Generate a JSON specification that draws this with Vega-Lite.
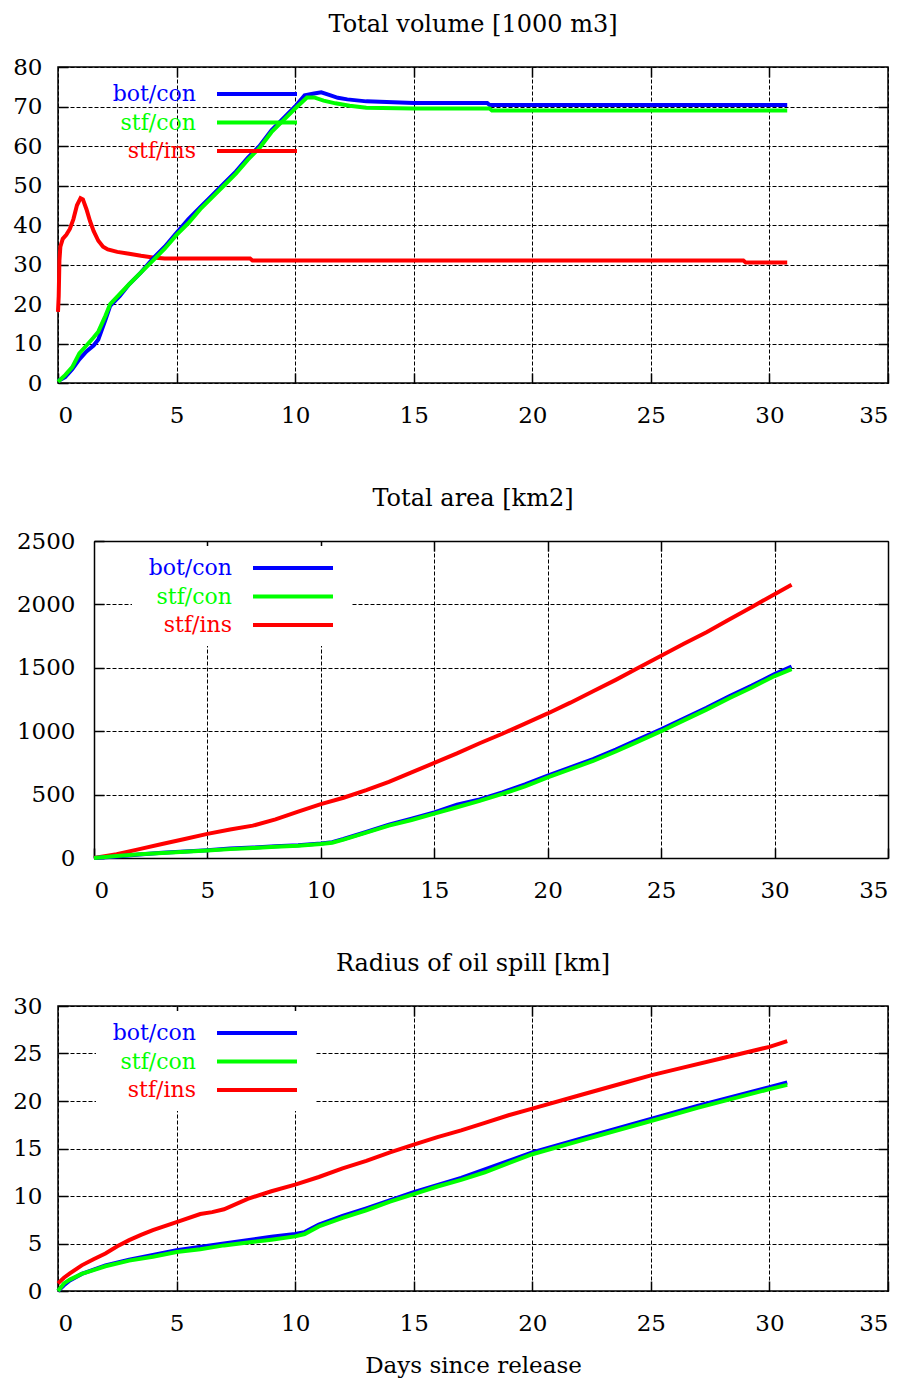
{
  "$schema": "https://vega.github.io/schema/vega-lite/v6.json",
  "padding": {"left": 11, "top": 12, "right": 5, "bottom": 5},
  "background": "white",
  "config": {
    "font": "DejaVu Serif",
    "view": {"stroke": "black", "strokeWidth": 1.5},
    "axis": {
      "labelFont": "DejaVu Serif", "labelFontSize": 23, "labelColor": "black",
      "gridColor": "black", "gridDash": [4, 2], "gridWidth": 1, "gridOpacity": 1,
      "domain": false, "domainColor": "black", "domainWidth": 1.5,
      "tickColor": "black", "tickSize": -10, "tickWidth": 1.5,
      "titleFont": "DejaVu Serif", "titleFontSize": 23, "titleFontWeight": "normal", "titleColor": "black"
    },
    "title": {"font": "DejaVu Serif", "fontSize": 24, "fontWeight": "normal", "color": "black", "offset": 19, "baseline": "alphabetic", "anchor": "middle"},
    "legend": {
      "orient": "none", "legendX": 38, "legendY": 5, "title": null,
      "symbolType": "M-4,0H4", "symbolSize": 400, "symbolStrokeWidth": 4,
      "rowPadding": 5.5, "symbolOffset": 139,
      "labelAlign": "right", "labelOffset": -73, "labelFont": "DejaVu Serif", "labelFontSize": 22,
      "fillColor": "white", "padding": 10, "strokeColor": null
    }
  },
  "datasets": {
    "volume": [
      {"day": 0, "value": 18, "run": "stf/ins"}, {"day": 0.03, "value": 22, "run": "stf/ins"}, {"day": 0.06, "value": 31, "run": "stf/ins"},
      {"day": 0.1, "value": 34.5, "run": "stf/ins"}, {"day": 0.2, "value": 36.5, "run": "stf/ins"}, {"day": 0.35, "value": 37.5, "run": "stf/ins"},
      {"day": 0.5, "value": 39, "run": "stf/ins"}, {"day": 0.65, "value": 41.5, "run": "stf/ins"}, {"day": 0.8, "value": 45, "run": "stf/ins"},
      {"day": 0.95, "value": 46.8, "run": "stf/ins"}, {"day": 1.05, "value": 46.5, "run": "stf/ins"}, {"day": 1.2, "value": 44, "run": "stf/ins"},
      {"day": 1.35, "value": 41, "run": "stf/ins"}, {"day": 1.5, "value": 38.5, "run": "stf/ins"}, {"day": 1.7, "value": 36, "run": "stf/ins"},
      {"day": 1.9, "value": 34.5, "run": "stf/ins"}, {"day": 2.1, "value": 33.8, "run": "stf/ins"}, {"day": 2.5, "value": 33.2, "run": "stf/ins"},
      {"day": 3.0, "value": 32.7, "run": "stf/ins"}, {"day": 3.5, "value": 32.2, "run": "stf/ins"}, {"day": 4.0, "value": 31.8, "run": "stf/ins"},
      {"day": 4.5, "value": 31.5, "run": "stf/ins"}, {"day": 8.1, "value": 31.5, "run": "stf/ins"}, {"day": 8.2, "value": 31, "run": "stf/ins"},
      {"day": 18, "value": 31, "run": "stf/ins"}, {"day": 28.9, "value": 31, "run": "stf/ins"}, {"day": 29, "value": 30.5, "run": "stf/ins"},
      {"day": 30.75, "value": 30.5, "run": "stf/ins"},
      {"day": 0, "value": 0.5, "run": "bot/con"}, {"day": 0.3, "value": 1.5, "run": "bot/con"}, {"day": 0.6, "value": 3.5, "run": "bot/con"},
      {"day": 0.9, "value": 6, "run": "bot/con"}, {"day": 1.2, "value": 8, "run": "bot/con"}, {"day": 1.5, "value": 9.5, "run": "bot/con"},
      {"day": 1.7, "value": 11, "run": "bot/con"}, {"day": 2.0, "value": 16, "run": "bot/con"}, {"day": 2.2, "value": 19.5, "run": "bot/con"},
      {"day": 2.6, "value": 22, "run": "bot/con"}, {"day": 3.0, "value": 25, "run": "bot/con"}, {"day": 3.5, "value": 28, "run": "bot/con"},
      {"day": 4.0, "value": 31.5, "run": "bot/con"}, {"day": 4.5, "value": 34.5, "run": "bot/con"}, {"day": 5.0, "value": 38, "run": "bot/con"},
      {"day": 5.5, "value": 41.5, "run": "bot/con"}, {"day": 6.0, "value": 44.5, "run": "bot/con"}, {"day": 6.5, "value": 47.5, "run": "bot/con"},
      {"day": 7.0, "value": 50.5, "run": "bot/con"}, {"day": 7.5, "value": 53.5, "run": "bot/con"}, {"day": 8.0, "value": 57, "run": "bot/con"},
      {"day": 8.5, "value": 60, "run": "bot/con"}, {"day": 9.0, "value": 64, "run": "bot/con"}, {"day": 9.5, "value": 67, "run": "bot/con"},
      {"day": 10.0, "value": 70, "run": "bot/con"}, {"day": 10.4, "value": 72.8, "run": "bot/con"}, {"day": 10.8, "value": 73.3, "run": "bot/con"},
      {"day": 11.1, "value": 73.6, "run": "bot/con"}, {"day": 11.4, "value": 73, "run": "bot/con"}, {"day": 11.8, "value": 72.2, "run": "bot/con"},
      {"day": 12.2, "value": 71.8, "run": "bot/con"}, {"day": 13, "value": 71.3, "run": "bot/con"}, {"day": 15, "value": 70.9, "run": "bot/con"},
      {"day": 18.1, "value": 70.9, "run": "bot/con"}, {"day": 18.2, "value": 70.4, "run": "bot/con"}, {"day": 30.75, "value": 70.4, "run": "bot/con"},
      {"day": 0, "value": 0.3, "run": "stf/con"}, {"day": 0.3, "value": 2, "run": "stf/con"}, {"day": 0.6, "value": 4, "run": "stf/con"},
      {"day": 0.9, "value": 7.5, "run": "stf/con"}, {"day": 1.2, "value": 9.5, "run": "stf/con"}, {"day": 1.5, "value": 11.5, "run": "stf/con"},
      {"day": 1.7, "value": 13, "run": "stf/con"}, {"day": 2.0, "value": 17, "run": "stf/con"}, {"day": 2.2, "value": 20, "run": "stf/con"},
      {"day": 2.6, "value": 22.5, "run": "stf/con"}, {"day": 3.0, "value": 25, "run": "stf/con"}, {"day": 3.5, "value": 28, "run": "stf/con"},
      {"day": 4.0, "value": 31, "run": "stf/con"}, {"day": 4.5, "value": 34, "run": "stf/con"}, {"day": 5.0, "value": 37.5, "run": "stf/con"},
      {"day": 5.5, "value": 40.5, "run": "stf/con"}, {"day": 6.0, "value": 44, "run": "stf/con"}, {"day": 6.5, "value": 47, "run": "stf/con"},
      {"day": 7.0, "value": 50, "run": "stf/con"}, {"day": 7.5, "value": 53, "run": "stf/con"}, {"day": 8.0, "value": 56.5, "run": "stf/con"},
      {"day": 8.5, "value": 59.5, "run": "stf/con"}, {"day": 9.0, "value": 63.5, "run": "stf/con"}, {"day": 9.5, "value": 66.5, "run": "stf/con"},
      {"day": 10.0, "value": 69.5, "run": "stf/con"}, {"day": 10.5, "value": 72.3, "run": "stf/con"}, {"day": 10.8, "value": 72.3, "run": "stf/con"},
      {"day": 11.2, "value": 71.5, "run": "stf/con"}, {"day": 11.7, "value": 70.8, "run": "stf/con"}, {"day": 12.3, "value": 70.2, "run": "stf/con"},
      {"day": 13, "value": 69.7, "run": "stf/con"}, {"day": 15, "value": 69.5, "run": "stf/con"}, {"day": 18.2, "value": 69.5, "run": "stf/con"},
      {"day": 18.3, "value": 69.0, "run": "stf/con"}, {"day": 30.75, "value": 69.0, "run": "stf/con"}
    ],
    "area": [
      {"day": 0, "value": 0, "run": "stf/ins"}, {"day": 1, "value": 30, "run": "stf/ins"}, {"day": 2, "value": 70, "run": "stf/ins"},
      {"day": 3, "value": 110, "run": "stf/ins"}, {"day": 4, "value": 150, "run": "stf/ins"}, {"day": 5, "value": 190, "run": "stf/ins"},
      {"day": 6, "value": 225, "run": "stf/ins"}, {"day": 7, "value": 255, "run": "stf/ins"}, {"day": 8, "value": 305, "run": "stf/ins"},
      {"day": 9, "value": 365, "run": "stf/ins"}, {"day": 10, "value": 425, "run": "stf/ins"}, {"day": 11, "value": 475, "run": "stf/ins"},
      {"day": 12, "value": 535, "run": "stf/ins"}, {"day": 13, "value": 600, "run": "stf/ins"}, {"day": 14, "value": 675, "run": "stf/ins"},
      {"day": 15, "value": 750, "run": "stf/ins"}, {"day": 16, "value": 825, "run": "stf/ins"}, {"day": 17, "value": 905, "run": "stf/ins"},
      {"day": 18, "value": 980, "run": "stf/ins"}, {"day": 19, "value": 1060, "run": "stf/ins"}, {"day": 20, "value": 1140, "run": "stf/ins"},
      {"day": 21, "value": 1225, "run": "stf/ins"}, {"day": 22, "value": 1315, "run": "stf/ins"}, {"day": 23, "value": 1405, "run": "stf/ins"},
      {"day": 24, "value": 1500, "run": "stf/ins"}, {"day": 25, "value": 1595, "run": "stf/ins"}, {"day": 26, "value": 1690, "run": "stf/ins"},
      {"day": 27, "value": 1780, "run": "stf/ins"}, {"day": 28, "value": 1880, "run": "stf/ins"}, {"day": 29, "value": 1980, "run": "stf/ins"},
      {"day": 30, "value": 2080, "run": "stf/ins"}, {"day": 30.75, "value": 2155, "run": "stf/ins"},
      {"day": 0, "value": 0, "run": "bot/con"}, {"day": 1, "value": 12, "run": "bot/con"}, {"day": 2, "value": 28, "run": "bot/con"},
      {"day": 3, "value": 42, "run": "bot/con"}, {"day": 4, "value": 52, "run": "bot/con"}, {"day": 5, "value": 62, "run": "bot/con"},
      {"day": 6, "value": 75, "run": "bot/con"}, {"day": 7, "value": 82, "run": "bot/con"}, {"day": 8, "value": 92, "run": "bot/con"},
      {"day": 9, "value": 100, "run": "bot/con"}, {"day": 10, "value": 115, "run": "bot/con"}, {"day": 10.5, "value": 125, "run": "bot/con"},
      {"day": 11, "value": 150, "run": "bot/con"}, {"day": 12, "value": 205, "run": "bot/con"}, {"day": 13, "value": 262, "run": "bot/con"},
      {"day": 14, "value": 310, "run": "bot/con"}, {"day": 15, "value": 360, "run": "bot/con"}, {"day": 16, "value": 420, "run": "bot/con"},
      {"day": 17, "value": 462, "run": "bot/con"}, {"day": 18, "value": 518, "run": "bot/con"}, {"day": 19, "value": 580, "run": "bot/con"},
      {"day": 20, "value": 650, "run": "bot/con"}, {"day": 21, "value": 715, "run": "bot/con"}, {"day": 22, "value": 780, "run": "bot/con"},
      {"day": 23, "value": 855, "run": "bot/con"}, {"day": 24, "value": 935, "run": "bot/con"}, {"day": 25, "value": 1015, "run": "bot/con"},
      {"day": 26, "value": 1100, "run": "bot/con"}, {"day": 27, "value": 1185, "run": "bot/con"}, {"day": 28, "value": 1275, "run": "bot/con"},
      {"day": 29, "value": 1360, "run": "bot/con"}, {"day": 30, "value": 1450, "run": "bot/con"}, {"day": 30.75, "value": 1510, "run": "bot/con"},
      {"day": 0, "value": 0, "run": "stf/con"}, {"day": 1, "value": 15, "run": "stf/con"}, {"day": 2, "value": 30, "run": "stf/con"},
      {"day": 3, "value": 40, "run": "stf/con"}, {"day": 4, "value": 50, "run": "stf/con"}, {"day": 5, "value": 60, "run": "stf/con"},
      {"day": 6, "value": 70, "run": "stf/con"}, {"day": 7, "value": 78, "run": "stf/con"}, {"day": 8, "value": 88, "run": "stf/con"},
      {"day": 9, "value": 97, "run": "stf/con"}, {"day": 10, "value": 110, "run": "stf/con"}, {"day": 10.5, "value": 120, "run": "stf/con"},
      {"day": 11, "value": 145, "run": "stf/con"}, {"day": 12, "value": 200, "run": "stf/con"}, {"day": 13, "value": 255, "run": "stf/con"},
      {"day": 14, "value": 300, "run": "stf/con"}, {"day": 15, "value": 350, "run": "stf/con"}, {"day": 16, "value": 400, "run": "stf/con"},
      {"day": 17, "value": 450, "run": "stf/con"}, {"day": 18, "value": 505, "run": "stf/con"}, {"day": 19, "value": 565, "run": "stf/con"},
      {"day": 20, "value": 635, "run": "stf/con"}, {"day": 21, "value": 700, "run": "stf/con"}, {"day": 22, "value": 765, "run": "stf/con"},
      {"day": 23, "value": 840, "run": "stf/con"}, {"day": 24, "value": 920, "run": "stf/con"}, {"day": 25, "value": 1000, "run": "stf/con"},
      {"day": 26, "value": 1085, "run": "stf/con"}, {"day": 27, "value": 1170, "run": "stf/con"}, {"day": 28, "value": 1260, "run": "stf/con"},
      {"day": 29, "value": 1345, "run": "stf/con"}, {"day": 30, "value": 1435, "run": "stf/con"}, {"day": 30.75, "value": 1490, "run": "stf/con"}
    ],
    "radius": [
      {"day": 0, "value": 0.8, "run": "stf/ins"}, {"day": 0.25, "value": 1.4, "run": "stf/ins"}, {"day": 0.5, "value": 1.85, "run": "stf/ins"},
      {"day": 1, "value": 2.7, "run": "stf/ins"}, {"day": 1.5, "value": 3.35, "run": "stf/ins"}, {"day": 2, "value": 3.95, "run": "stf/ins"},
      {"day": 2.5, "value": 4.7, "run": "stf/ins"}, {"day": 3, "value": 5.35, "run": "stf/ins"}, {"day": 3.5, "value": 5.9, "run": "stf/ins"},
      {"day": 4, "value": 6.4, "run": "stf/ins"}, {"day": 5, "value": 7.25, "run": "stf/ins"}, {"day": 6, "value": 8.1, "run": "stf/ins"},
      {"day": 6.5, "value": 8.3, "run": "stf/ins"}, {"day": 7, "value": 8.6, "run": "stf/ins"}, {"day": 8, "value": 9.7, "run": "stf/ins"},
      {"day": 9, "value": 10.5, "run": "stf/ins"}, {"day": 10, "value": 11.2, "run": "stf/ins"}, {"day": 11, "value": 12.0, "run": "stf/ins"},
      {"day": 12, "value": 12.9, "run": "stf/ins"}, {"day": 13, "value": 13.7, "run": "stf/ins"}, {"day": 14, "value": 14.6, "run": "stf/ins"},
      {"day": 15, "value": 15.4, "run": "stf/ins"}, {"day": 16, "value": 16.2, "run": "stf/ins"}, {"day": 17, "value": 16.9, "run": "stf/ins"},
      {"day": 18, "value": 17.7, "run": "stf/ins"}, {"day": 19, "value": 18.5, "run": "stf/ins"}, {"day": 20, "value": 19.2, "run": "stf/ins"},
      {"day": 22, "value": 20.6, "run": "stf/ins"}, {"day": 24, "value": 22.0, "run": "stf/ins"}, {"day": 25, "value": 22.7, "run": "stf/ins"},
      {"day": 26, "value": 23.3, "run": "stf/ins"}, {"day": 28, "value": 24.5, "run": "stf/ins"}, {"day": 30, "value": 25.7, "run": "stf/ins"},
      {"day": 30.75, "value": 26.3, "run": "stf/ins"},
      {"day": 0, "value": 0, "run": "bot/con"}, {"day": 0.25, "value": 0.6, "run": "bot/con"}, {"day": 0.5, "value": 1.1, "run": "bot/con"},
      {"day": 1, "value": 1.8, "run": "bot/con"}, {"day": 2, "value": 2.7, "run": "bot/con"}, {"day": 3, "value": 3.3, "run": "bot/con"},
      {"day": 5, "value": 4.3, "run": "bot/con"}, {"day": 7, "value": 5.0, "run": "bot/con"}, {"day": 9, "value": 5.7, "run": "bot/con"},
      {"day": 10, "value": 6.0, "run": "bot/con"}, {"day": 10.4, "value": 6.2, "run": "bot/con"}, {"day": 11, "value": 7.0, "run": "bot/con"},
      {"day": 12, "value": 7.9, "run": "bot/con"}, {"day": 13, "value": 8.7, "run": "bot/con"}, {"day": 15, "value": 10.4, "run": "bot/con"},
      {"day": 17, "value": 11.9, "run": "bot/con"}, {"day": 20, "value": 14.6, "run": "bot/con"}, {"day": 22, "value": 16.0, "run": "bot/con"},
      {"day": 25, "value": 18.1, "run": "bot/con"}, {"day": 27, "value": 19.5, "run": "bot/con"}, {"day": 30, "value": 21.45, "run": "bot/con"},
      {"day": 30.75, "value": 21.95, "run": "bot/con"},
      {"day": 0, "value": 0, "run": "stf/con"}, {"day": 0.25, "value": 0.8, "run": "stf/con"}, {"day": 0.5, "value": 1.2, "run": "stf/con"},
      {"day": 1, "value": 1.8, "run": "stf/con"}, {"day": 1.5, "value": 2.2, "run": "stf/con"}, {"day": 2, "value": 2.6, "run": "stf/con"},
      {"day": 3, "value": 3.2, "run": "stf/con"}, {"day": 4, "value": 3.6, "run": "stf/con"}, {"day": 5, "value": 4.1, "run": "stf/con"},
      {"day": 6, "value": 4.4, "run": "stf/con"}, {"day": 7, "value": 4.8, "run": "stf/con"}, {"day": 8, "value": 5.1, "run": "stf/con"},
      {"day": 9, "value": 5.4, "run": "stf/con"}, {"day": 10, "value": 5.75, "run": "stf/con"}, {"day": 10.4, "value": 6.0, "run": "stf/con"},
      {"day": 11, "value": 6.8, "run": "stf/con"}, {"day": 12, "value": 7.7, "run": "stf/con"}, {"day": 13, "value": 8.5, "run": "stf/con"},
      {"day": 14, "value": 9.4, "run": "stf/con"}, {"day": 15, "value": 10.2, "run": "stf/con"}, {"day": 16, "value": 11.0, "run": "stf/con"},
      {"day": 17, "value": 11.7, "run": "stf/con"}, {"day": 18, "value": 12.5, "run": "stf/con"}, {"day": 20, "value": 14.4, "run": "stf/con"},
      {"day": 22, "value": 15.8, "run": "stf/con"}, {"day": 25, "value": 17.9, "run": "stf/con"}, {"day": 27, "value": 19.3, "run": "stf/con"},
      {"day": 30, "value": 21.25, "run": "stf/con"}, {"day": 30.75, "value": 21.7, "run": "stf/con"}
    ]
  },
  "spacing": 59,
  "resolve": {"scale": {"color": "independent"}, "legend": {"color": "independent"}},
  "vconcat": [
    {
      "title": {"text": "Total volume [1000 m3]"},
      "width": 830, "height": 316,
      "data": {"name": "volume"},
      "resolve": {"axis": {"x": "independent", "y": "independent"}},
      "layer": [
        {
          "mark": {"type": "line", "strokeWidth": 4},
          "encoding": {
            "x": {"field": "day", "type": "quantitative", "scale": {"domain": [0, 35], "nice": false},
                  "axis": {"values": [0, 5, 10, 15, 20, 25, 30, 35], "title": null, "grid": true, "labelPadding": 31}},
            "y": {"field": "value", "type": "quantitative", "scale": {"domain": [0, 80], "nice": false},
                  "axis": {"values": [0, 10, 20, 30, 40, 50, 60, 70, 80], "title": null, "grid": true, "labelPadding": 26}},
            "color": {"field": "run", "type": "nominal",
                      "scale": {"domain": ["bot/con", "stf/con", "stf/ins"], "range": ["#0000ff", "#00ff00", "#ff0000"]},
                      "legend": {"fillColor": "transparent", "encode": {"labels": {"update": {"fill": {"signal": "datum.label === 'bot/con' ? '#0000ff' : datum.label === 'stf/con' ? '#00ff00' : '#ff0000'"}}}}}}
          }
        },
        {
          "mark": {"type": "point", "opacity": 0},
          "encoding": {
            "x": {"field": "day", "type": "quantitative", "scale": {"domain": [0, 35], "nice": false},
                  "axis": {"orient": "top", "values": [5, 10, 15, 20, 25, 30], "labels": false, "title": null, "grid": false}},
            "y": {"field": "value", "type": "quantitative", "scale": {"domain": [0, 80], "nice": false},
                  "axis": {"orient": "right", "values": [10, 20, 30, 40, 50, 60, 70], "labels": false, "title": null, "grid": false}}
          }
        }
      ]
    },
    {
      "spacing": 49,
      "resolve": {"scale": {"color": "independent"}, "legend": {"color": "independent"}},
      "vconcat": [
        {
          "title": {"text": "Total area [km2]"},
          "width": 830, "height": 317,
          "view": {"stroke": null},
          "data": {"name": "area"},
          "resolve": {"axis": {"x": "independent", "y": "independent"}},
          "layer": [
            {
              "mark": {"type": "line", "strokeWidth": 4},
              "encoding": {
                "x": {"field": "day", "type": "quantitative", "scale": {"domain": [0, 35], "range": [36, 830], "nice": false},
                      "axis": {"values": [0, 5, 10, 15, 20, 25, 30, 35], "title": null, "grid": true, "domain": true, "labelPadding": 31}},
                "y": {"field": "value", "type": "quantitative", "scale": {"domain": [0, 2500], "nice": false},
                      "axis": {"values": [0, 500, 1000, 1500, 2000, 2500], "format": "d", "title": null, "grid": true, "domain": true, "offset": -36, "labelPadding": 29}},
                "color": {"field": "run", "type": "nominal",
                          "scale": {"domain": ["bot/con", "stf/con", "stf/ins"], "range": ["#0000ff", "#00ff00", "#ff0000"]},
                          "legend": {"legendX": 74, "encode": {"labels": {"update": {"fill": {"signal": "datum.label === 'bot/con' ? '#0000ff' : datum.label === 'stf/con' ? '#00ff00' : '#ff0000'"}}}}}}
              }
            },
            {
              "mark": {"type": "point", "opacity": 0},
              "encoding": {
                "x": {"field": "day", "type": "quantitative", "scale": {"domain": [0, 35], "range": [36, 830], "nice": false},
                      "axis": {"orient": "top", "values": [5, 10, 15, 20, 25, 30], "labels": false, "title": null, "grid": false, "domain": true}},
                "y": {"field": "value", "type": "quantitative", "scale": {"domain": [0, 2500], "nice": false},
                      "axis": {"orient": "right", "values": [500, 1000, 1500, 2000], "labels": false, "title": null, "grid": false, "domain": true}}
              }
            }
          ]
        },
        {
          "title": {"text": "Radius of oil spill [km]"},
          "width": 830, "height": 285,
          "data": {"name": "radius"},
          "resolve": {"axis": {"x": "independent", "y": "independent"}},
          "layer": [
            {
              "mark": {"type": "line", "strokeWidth": 4},
              "encoding": {
                "x": {"field": "day", "type": "quantitative", "scale": {"domain": [0, 35], "nice": false},
                      "axis": {"values": [0, 5, 10, 15, 20, 25, 30, 35], "title": "Days since release", "titlePadding": 19, "grid": true, "labelPadding": 31}},
                "y": {"field": "value", "type": "quantitative", "scale": {"domain": [0, 30], "nice": false},
                      "axis": {"values": [0, 5, 10, 15, 20, 25, 30], "title": null, "grid": true, "labelPadding": 26}},
                "color": {"field": "run", "type": "nominal",
                          "scale": {"domain": ["bot/con", "stf/con", "stf/ins"], "range": ["#0000ff", "#00ff00", "#ff0000"]},
                          "legend": {"encode": {"labels": {"update": {"fill": {"signal": "datum.label === 'bot/con' ? '#0000ff' : datum.label === 'stf/con' ? '#00ff00' : '#ff0000'"}}}}}}
              }
            },
            {
              "mark": {"type": "point", "opacity": 0},
              "encoding": {
                "x": {"field": "day", "type": "quantitative", "scale": {"domain": [0, 35], "nice": false},
                      "axis": {"orient": "top", "values": [5, 10, 15, 20, 25, 30], "labels": false, "title": null, "grid": false}},
                "y": {"field": "value", "type": "quantitative", "scale": {"domain": [0, 30], "nice": false},
                      "axis": {"orient": "right", "values": [5, 10, 15, 20, 25], "labels": false, "title": null, "grid": false}}
              }
            }
          ]
        }
      ]
    }
  ]
}
